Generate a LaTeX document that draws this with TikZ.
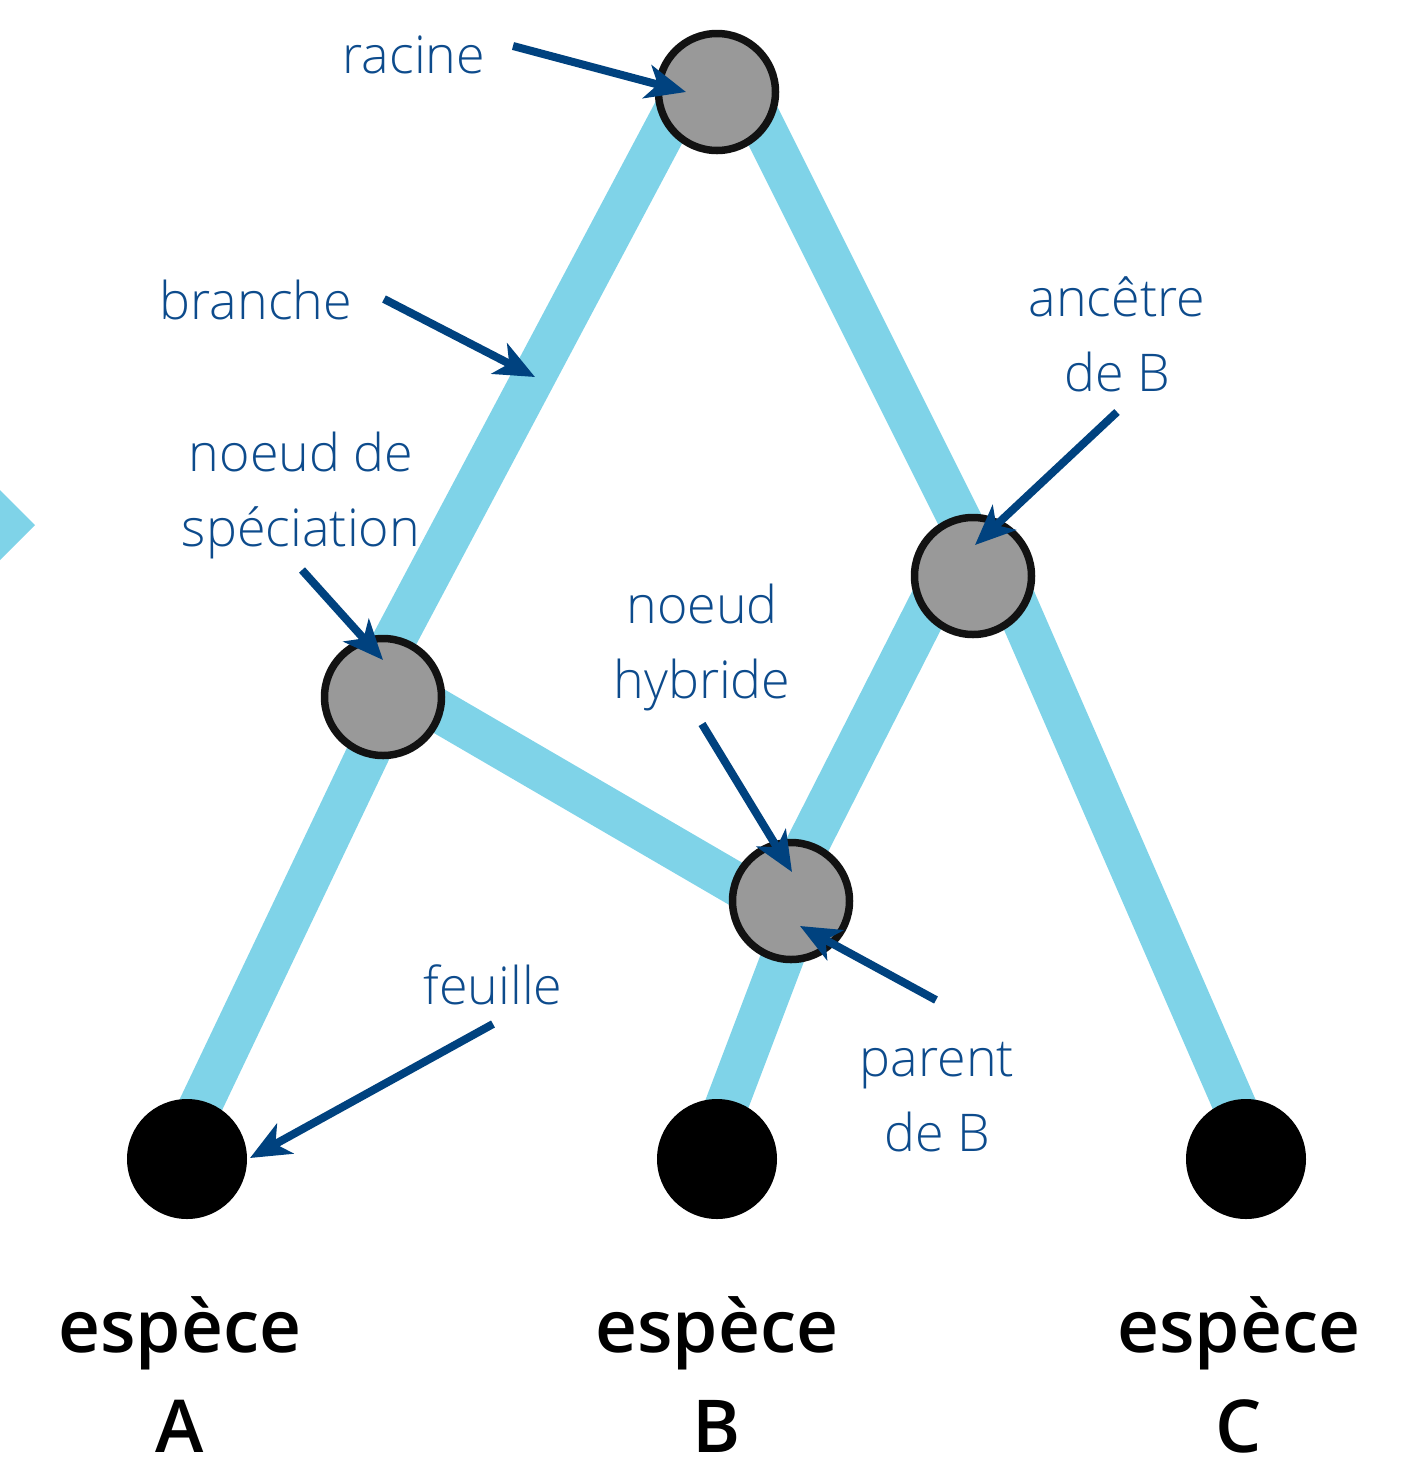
\documentclass[tikz,border=0pt]{standalone}
\usepackage{fontspec}
\setmainfont{Open Sans}
\IfFontExistsTF{Open Sans Light}{\newfontfamily\lightfont{Open Sans Light}}{\newfontfamily\lightfont{Open Sans}}
\IfFontExistsTF{Open Sans Semibold}{\newfontfamily\semifont{Open Sans Semibold}}{\newfontfamily\semifont{Open Sans}[FakeBold=1]}
\usetikzlibrary{arrows.meta}
\definecolor{branchc}{HTML}{7FD3E8}
\definecolor{labc}{HTML}{0D4B8C}
\definecolor{arrc}{HTML}{00427F}
\definecolor{nodec}{HTML}{999999}
\pgfdeclarelayer{bg}
\pgfsetlayers{bg,main}
\tikzset{
  branch/.style={draw=branchc, line width=43pt},
  inner/.style={circle, fill=nodec, draw=black!93, line width=7.5pt, minimum size=117pt, inner sep=0pt},
  leaf/.style={circle, fill=black, minimum size=120pt, inner sep=0pt},
  lab/.style={text=labc, font=\lightfont\fontsize{52}{75}\selectfont, align=center, inner sep=0pt},
  sp/.style={text=black, font=\semifont\fontsize{73}{98}\selectfont, anchor=base, inner sep=0pt},
  pointer/.style={draw=arrc, line width=8pt, -{Stealth[length=40pt,width=34pt,inset=11pt]}},
}
\begin{document}
\begin{tikzpicture}[x=1pt,y=-1pt]
\useasboundingbox (0,0) rectangle (1411,1468);
% left partial triangle
\fill[branchc] (-15,475) -- (35,525) -- (-15,575) -- cycle;
% nodes
\node[inner] (root) at (717,92) {};
\node[inner] (anc) at (973,576) {};
\node[inner] (spec) at (383,697) {};
\node[inner] (hyb) at (791,901) {};
\node[leaf] (leafA) at (187,1159) {};
\node[leaf] (leafB) at (717,1159) {};
\node[leaf] (leafC) at (1246,1159) {};
% branches
\begin{pgfonlayer}{bg}
\draw[branch] ([xshift=-32pt]root.center) -- ([xshift=-19pt]spec.center);
\draw[branch] ([xshift=12pt]spec.center) -- ([xshift=-12pt]leafA.center);
\draw[branch] ([yshift=18.5pt]spec.center) -- ([yshift=-15pt]hyb.center);
\draw[branch] ([xshift=29pt]root.center) -- ([xshift=15pt]anc.center);
\draw[branch] ([xshift=-29pt]anc.center) -- ([xshift=-12pt]hyb.center);
\draw[branch] ([xshift=13pt]hyb.center) -- ([xshift=-11pt]leafB.center);
\draw[branch] ([xshift=31pt]anc.center) -- ([xshift=12pt]leafC.center);
\end{pgfonlayer}
% labels
\node[lab] (lracine) at (414,55) {racine};
\node[lab] (lbranche) at (256,300) {branche};
\node[lab] (lspec) at (301,495) {noeud de\\spéciation};
\node[lab] (lanc) at (1117,334) {ancêtre\\de B};
\node[lab] (lhyb) at (702,647) {noeud\\hybride};
\node[lab] (lpar) at (937,1097) {parent\\de B};
\node[lab] (lfeuille) at (493,985) {feuille};
\node[sp] (eA) at (180,1352) {espèce};
\node[sp] (nA) at (180,1452) {A};
\node[sp] (eB) at (717,1352) {espèce};
\node[sp] (nB) at (717,1452) {B};
\node[sp] (eC) at (1239,1352) {espèce};
\node[sp] (nC) at (1239,1452) {C};
% pointer coordinates
\coordinate (sr) at (513,46);   \coordinate (tr) at (686,92);
\coordinate (sb) at (384,299);  \coordinate (tb) at (535,377);
\coordinate (ss) at (302,570);  \coordinate (ts) at (383,660);
\coordinate (sa) at (1117,412); \coordinate (ta) at (975,545);
\coordinate (sh) at (702,724);  \coordinate (th) at (792,872);
\coordinate (sq) at (936,1000); \coordinate (tq) at (800,926);
\coordinate (sf) at (493,1024); \coordinate (tf) at (250,1158);
% pointers
\foreach \s/\t in {sr/tr,sb/tb,ss/ts,sa/ta,sh/th,sq/tq,sf/tf}{
  \draw[pointer] (\s) -- (\t);
}
\end{tikzpicture}
\end{document}
